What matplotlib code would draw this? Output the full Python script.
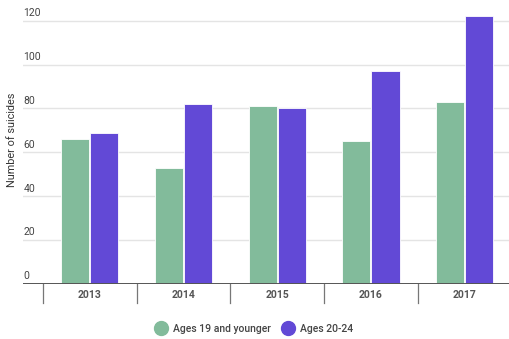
import numpy as np
import matplotlib
matplotlib.use("Agg")
import matplotlib.pyplot as plt
from matplotlib.lines import Line2D

plt.rcParams['font.family'] = ['Roboto', 'DejaVu Sans']

years = ['2013', '2014', '2015', '2016', '2017']
ages_19_under = [66, 53, 81, 65, 83]
ages_20_24 = [69, 82, 80, 97, 122]
series_names = ['Ages 19 and younger', 'Ages 20-24']
yticks = [0, 20, 40, 60, 80, 100, 120]

green = '#82bb9b'
purple = '#6249d6'

W, H = 509, 339
fig = plt.figure(figsize=(W / 100, H / 100), dpi=100)
# axes: left edge at x=23px, baseline at y=284px, top at image top
ax = fig.add_axes([23 / W, (H - 284) / H, (W - 23) / W, 284 / H])

x = np.arange(len(years))
bw = 0.30
ax.bar(x - 0.155, ages_19_under, bw, color=green, edgecolor='white', linewidth=0.6, zorder=3)
ax.bar(x + 0.155, ages_20_24, bw, color=purple, edgecolor='white', linewidth=0.6, zorder=3)

ax.set_ylim(0, 129.4)
ax.set_xlim(-0.5 - 20 / 93.7, -0.5 + (W - 43) / 93.7)

for s in ax.spines.values():
    s.set_visible(False)
ax.set_yticks([])
ax.set_xticks([])

for v in yticks:
    if v > 0:
        ax.axhline(v, color='#e4e4e4', lw=1, zorder=1)
    ax.text(-0.5 - 20 / 93.7 + 0.005, v + 1.2, str(v), ha='left', va='bottom',
            fontsize=7.5, color='#444444', zorder=4)
ax.axhline(0, color='#555555', lw=1.4, zorder=4)

# category separators and year labels below the baseline
for i in range(len(years) + 1):
    ax.plot([i - 0.5, i - 0.5], [0, -8.5], color='#777777', lw=0.9, clip_on=False)
for i, yr in enumerate(years):
    ax.text(i, -5, yr, ha='center', va='center', fontsize=7.5, fontweight='bold',
            color='#555555', clip_on=False)

fig.text(12 / W, 1 - 140 / H, 'Number of suicides', rotation=90, ha='center', va='center',
         fontsize=7.8, color='#333333')

handles = [Line2D([], [], marker='o', ls='', markersize=10, color=green),
           Line2D([], [], marker='o', ls='', markersize=10, color=purple)]
leg = fig.legend(handles, series_names, loc='center', bbox_to_anchor=(254 / W, 1 - 329 / H),
                 ncol=2, frameon=False, fontsize=7.5, handletextpad=0.6, columnspacing=1.0,
                 handlelength=1.2)
for t in leg.get_texts():
    t.set_color('#444444')
    t.set_fontweight('medium')

fig.savefig('out.png', dpi=100)
